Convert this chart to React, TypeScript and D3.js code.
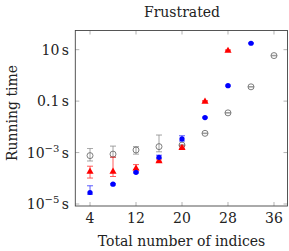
import React from 'react'
import { scaleLinear, scaleLog, symbol, symbolTriangle } from 'd3'

// total number of indices
const indices = [4, 8, 12, 16, 20, 24, 28, 32, 36]
const xTicks = [4, 12, 20, 28, 36]
const yTicks = [
    { value: 1e1, base: '10', exp: '' },
    { value: 1e-1, base: '0.1', exp: '' },
    { value: 1e-3, base: '10', exp: '−3' },
    { value: 1e-5, base: '10', exp: '−5' },
]

// running times in seconds (mean, lower, upper)
const grayMean = [7.6e-4, 8.7e-4, 1.26e-3, 1.7e-3, 1.95e-3, 5.6e-3, 3.5e-2, 0.36, 5.9]
const grayLow = [4.7e-4, 6.6e-4, 8.7e-4, 1.07e-3, 1.88e-3, 5.45e-3, 3.42e-2, 0.352, 5.75]
const grayHigh = [1.45e-3, 1.78e-3, 1.7e-3, 4.8e-3, 2.02e-3, 5.75e-3, 3.58e-2, 0.368, 6.05]

const redMean = [1.9e-4, 1.9e-4, 2.5e-4, 4.8e-4, 1.58e-3, 0.1, 9.5]
const redLow = [1.02e-4, 1.17e-4, 2.1e-4, 4.4e-4, 1.45e-3, 0.095, 9.1]
const redHigh = [2.95e-4, 6.6e-4, 3.4e-4, 5.2e-4, 1.78e-3, 0.105, 9.9]

const blueMean = [2.8e-5, 5.9e-5, 1.7e-4, 6.5e-4, 3.4e-3, 2.3e-2, 0.4, 17.8]
const blueLow = [2.4e-5, 5.5e-5, 1.6e-4, 6.0e-4, 2.8e-3, 2.2e-2, 0.38, 17]
const blueHigh = [5.1e-5, 6.3e-5, 1.8e-4, 7.9e-4, 4.5e-3, 2.4e-2, 0.42, 18.6]

const textStyle = { fontFamily: "'DejaVu Serif', serif" }

const App = () => {
    const left = 75.3, right = 287.5, top = 30.5, bottom = 206

    const xScale = scaleLinear().domain([1.44, 38.35]).range([left, right])
    const yScale = scaleLog().domain([Math.pow(10, -5.078), Math.pow(10, 1.746)]).range([bottom, top])

    const triangle = symbol().type(symbolTriangle).size(22)()

    const errorBar = (x, lo, hi, color, key) => {
        const px = xScale(x)
        return (
            <g key={key} stroke={color} strokeWidth={0.8} opacity={0.8}>
                <line x1={px} x2={px} y1={yScale(lo)} y2={yScale(hi)} />
                <line x1={px - 3} x2={px + 3} y1={yScale(lo)} y2={yScale(lo)} />
                <line x1={px - 3} x2={px + 3} y1={yScale(hi)} y2={yScale(hi)} />
            </g>
        )
    }

    return (
        <svg width={289} height={251} style={{ position: 'absolute', left: 0, top: 0, background: 'white' }}>
            {/* ticks */}
            <g stroke="#a0a0a0" strokeWidth={0.8}>
                {xTicks.map(t => (
                    <g key={'xt' + t}>
                        <line x1={xScale(t)} x2={xScale(t)} y1={bottom} y2={bottom - 4} />
                        <line x1={xScale(t)} x2={xScale(t)} y1={top} y2={top + 4} />
                    </g>
                ))}
                {yTicks.map(t => (
                    <g key={'yt' + t.value}>
                        <line x1={left} x2={left + 4} y1={yScale(t.value)} y2={yScale(t.value)} />
                        <line x1={right} x2={right - 4} y1={yScale(t.value)} y2={yScale(t.value)} />
                    </g>
                ))}
            </g>

            {/* gray series */}
            {indices.map((x, i) => errorBar(x, grayLow[i], grayHigh[i], '#707070', 'ge' + i))}
            {indices.map((x, i) => (
                <circle key={'g' + i} cx={xScale(x)} cy={yScale(grayMean[i])} r={3}
                    fill="none" stroke="#707070" strokeWidth={0.9} />
            ))}

            {/* red series */}
            {redMean.map((v, i) => errorBar(indices[i], redLow[i], redHigh[i], 'red', 're' + i))}
            {redMean.map((v, i) => (
                <path key={'r' + i} d={triangle} fill="red"
                    transform={`translate(${xScale(indices[i])},${yScale(v) + 0.5})`} />
            ))}

            {/* blue series */}
            {blueMean.map((v, i) => errorBar(indices[i], blueLow[i], blueHigh[i], 'blue', 'be' + i))}
            {blueMean.map((v, i) => (
                <circle key={'b' + i} cx={xScale(indices[i])} cy={yScale(v)} r={2.6} fill="blue" />
            ))}

            {/* frame */}
            <rect x={left} y={top} width={right - left} height={bottom - top} fill="none" stroke="#444" strokeWidth={0.9} />

            {/* tick labels */}
            <g fontSize={14} fill="#222" style={textStyle}>
                {xTicks.map(t => (
                    <text key={'xl' + t} x={xScale(t)} y={223} textAnchor="middle">{t}</text>
                ))}
                {yTicks.map(t => (
                    <text key={'yl' + t.value} x={69} y={yScale(t.value) + 5} textAnchor="end">
                        {t.base}
                        {t.exp && <tspan fontSize={10} dy={-6}>{t.exp}</tspan>}
                        <tspan dx={2.5} dy={t.exp ? 6 : 0}>s</tspan>
                    </text>
                ))}
            </g>

            {/* titles */}
            <g fontSize={14} fill="#222" style={textStyle}>
                <text x={182} y={16.5} textAnchor="middle">Frustrated</text>
                <text x={181.5} y={245.5} textAnchor="middle">Total number of indices</text>
                <text transform="translate(16.5,113) rotate(-90)" textAnchor="middle">Running time</text>
            </g>
        </svg>
    )
}

export default App
